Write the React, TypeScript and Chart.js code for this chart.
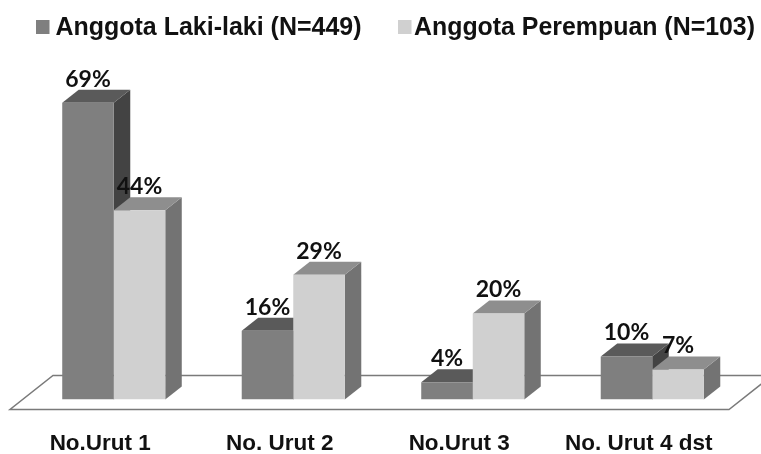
import React, { useEffect, useRef } from "react";
import { Chart, registerables } from "chart.js";

Chart.register(...registerables);

const categories = ["No.Urut 1", "No. Urut 2", "No.Urut 3", "No. Urut 4 dst"];
const maleLabel = "Anggota Laki-laki (N=449)";
const femaleLabel = "Anggota Perempuan (N=103)";
const maleValues = [69, 16, 4, 10];
const femaleValues = [44, 29, 20, 7];

const DEPTH_X = 16.5;
const DEPTH_Y = 13;
const faces = [
  { top: "#5a5a5a", side: "#434343" },
  { top: "#8e8e8e", side: "#737373" },
];

const shade3d = {
  id: "shade3d",
  beforeDatasetsDraw(chart: any) {
    const { ctx, chartArea: a } = chart;
    ctx.save();
    // floor
    ctx.beginPath();
    ctx.moveTo(a.left - 14, a.bottom + 10);
    ctx.lineTo(a.right - 13, a.bottom + 10);
    ctx.lineTo(a.right + 30, a.bottom - 24);
    ctx.lineTo(a.left + 29, a.bottom - 24);
    ctx.closePath();
    ctx.fillStyle = "#ffffff";
    ctx.fill();
    ctx.lineWidth = 1.5;
    ctx.strokeStyle = "#7a7a7a";
    ctx.stroke();
    // depth faces
    chart.data.datasets.forEach((_: any, di: number) => {
      chart.getDatasetMeta(di).data.forEach((bar: any) => {
        const { x, y, base, width } = bar.getProps(["x", "y", "base", "width"], true);
        const l = x - width / 2;
        const r = x + width / 2;
        ctx.fillStyle = faces[di].side;
        ctx.beginPath();
        ctx.moveTo(r, y);
        ctx.lineTo(r + DEPTH_X, y - DEPTH_Y);
        ctx.lineTo(r + DEPTH_X, base - DEPTH_Y);
        ctx.lineTo(r, base);
        ctx.closePath();
        ctx.fill();
        ctx.fillStyle = faces[di].top;
        ctx.beginPath();
        ctx.moveTo(l, y);
        ctx.lineTo(l + DEPTH_X, y - DEPTH_Y);
        ctx.lineTo(r + DEPTH_X, y - DEPTH_Y);
        ctx.lineTo(r, y);
        ctx.closePath();
        ctx.fill();
      });
    });
    ctx.restore();
  },
  afterDatasetsDraw(chart: any) {
    const { ctx } = chart;
    ctx.save();
    ctx.font = "700 23px Lato";
    ctx.fillStyle = "#111111";
    ctx.textAlign = "center";
    ctx.textBaseline = "middle";
    chart.data.datasets.forEach((ds: any, di: number) => {
      chart.getDatasetMeta(di).data.forEach((bar: any, i: number) => {
        const { x, y } = bar.getProps(["x", "y"], true);
        ctx.fillText(ds.data[i] + "%", x, y - 23.5);
      });
    });
    // legend
    const slots = [
      { box: 36, text: 55.5, w: 306 },
      { box: 398, text: 414, w: 341 },
    ];
    ctx.textAlign = "left";
    ctx.font = "bold 25px 'Liberation Sans'";
    chart.data.datasets.forEach((ds: any, di: number) => {
      const s = slots[di];
      ctx.fillStyle = ds.backgroundColor;
      ctx.fillRect(s.box, 20, 13.5, 14);
      ctx.fillStyle = "#111111";
      ctx.fillText(ds.label, s.text, 28, s.w);
    });
    ctx.restore();
  },
};

export default function App() {
  const ref = useRef<HTMLCanvasElement>(null);
  useEffect(() => {
    document.body.style.margin = "0";
    const chart = new Chart(ref.current!, {
      type: "bar",
      data: {
        labels: categories,
        datasets: [
          { label: maleLabel, data: maleValues, backgroundColor: "#7f7f7f" },
          { label: femaleLabel, data: femaleValues, backgroundColor: "#d0d0d0" },
        ],
      },
      options: {
        responsive: false,
        animation: false,
        layout: { padding: { left: 24, right: 19, top: 12.5, bottom: 0 } },
        datasets: { bar: { categoryPercentage: 0.574, barPercentage: 1 } },
        plugins: { legend: { display: false }, tooltip: { enabled: false } },
        scales: {
          x: {
            afterFit: (s: any) => {
              s.height = 54.5;
            },
            grid: { display: false, drawTicks: false },
            border: { display: false },
            ticks: {
              padding: 31,
              labelOffset: -13.5,
              maxRotation: 0,
              autoSkip: false,
              color: "#111111",
              font: { family: "'Liberation Sans'", size: 22.5, weight: "bold" },
            },
          },
          y: { display: false, min: 0, max: 90 },
        },
      },
      plugins: [shade3d],
    } as any);
    return () => chart.destroy();
  }, []);
  return <canvas ref={ref} width={761} height={454} style={{ display: "block", filter: "blur(0.4px)" }} />;
}
